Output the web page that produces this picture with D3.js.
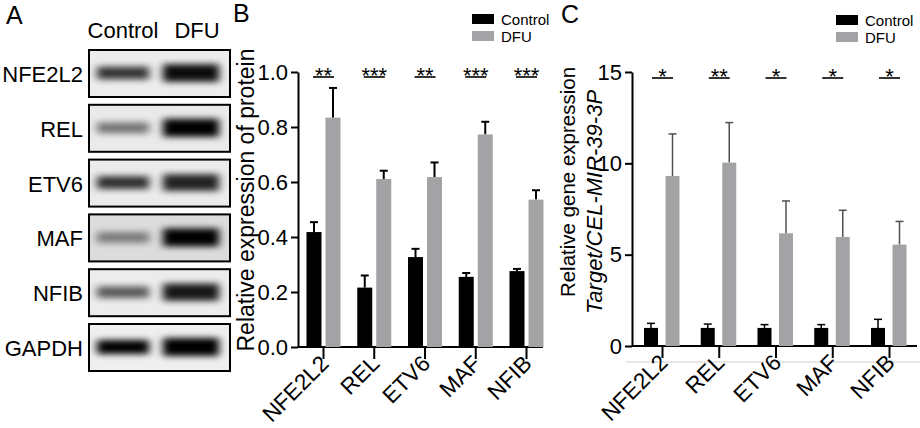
<!DOCTYPE html>
<html>
<head>
<meta charset="utf-8">
<script src="https://cdn.jsdelivr.net/npm/d3@7"></script>
<style>
  body { margin: 0; background: #fff; }
  text { font-family: "Liberation Sans", Arial, sans-serif; }
</style>
</head>
<body>
<script>
// genes shown in all three panels
var genes = ["NFE2L2", "REL", "ETV6", "MAF", "NFIB"];
var blotRows = ["NFE2L2", "REL", "ETV6", "MAF", "NFIB", "GAPDH"];
var lanes = ["Control", "DFU"];

// band darkness (0..1)
var bandControl = [0.78, 0.5, 0.8, 0.45, 0.62, 1.0];
var bandDFU = [0.95, 1.0, 0.85, 1.0, 0.9, 1.0];
var bandBg = ["#ececec", "#eaeaea", "#ebebeb", "#dcdcdc", "#ececec", "#efefef"];

// panel B: relative expression of protein
var protControl = [0.418, 0.216, 0.327, 0.255, 0.276];
var protControlErr = [0.036, 0.044, 0.03, 0.014, 0.008];
var protDFU = [0.834, 0.611, 0.618, 0.773, 0.536];
var protDFUErr = [0.108, 0.03, 0.053, 0.046, 0.034];
var protStars = ["**", "***", "**", "***", "***"];
var protTicks = [0, 0.2, 0.4, 0.6, 0.8, 1.0];

// panel C: relative gene expression
var geneControl = [0.99, 0.99, 0.99, 0.99, 0.99];
var geneControlErr = [0.25, 0.21, 0.18, 0.18, 0.47];
var geneDFU = [9.31, 10.04, 6.17, 5.97, 5.55];
var geneDFUErr = [2.3, 2.19, 1.77, 1.46, 1.27];
var geneStars = ["*", "**", "*", "*", "*"];
var geneTicks = [0, 5, 10, 15];

var black = "#000", grey = "#a3a3a6";

var svg = d3.select("body").append("svg")
  .attr("width", 920).attr("height", 428);

var defs = svg.append("defs");
defs.append("filter").attr("id", "blur").attr("x", "-30%").attr("y", "-100%")
  .attr("width", "160%").attr("height", "300%")
  .append("feGaussianBlur").attr("stdDeviation", "4 3");

function letter(x, y, t) {
  svg.append("text").attr("x", x).attr("y", y)
    .style("font-size", "25px").text(t);
}

// ---------- panel A: blots ----------
letter(6, 24, "A");

var rowY = d3.scalePoint().domain(blotRows).range([73, 347]);
var laneX = d3.scalePoint().domain(lanes).range([123, 191]);

svg.selectAll(".laneLabel").data(lanes).enter().append("text")
  .attr("x", function(d) { return d == "Control" ? laneX(d) : laneX(d) + 6; })
  .attr("y", 38)
  .attr("text-anchor", "middle")
  .style("font-size", "22px")
  .text(function(d) { return d; });

var rows = svg.selectAll(".blot").data(blotRows).enter().append("g")
  .attr("transform", function(d) { return "translate(0," + rowY(d) + ")"; });

rows.append("rect")
  .attr("x", 89).attr("y", -23).attr("width", 141).attr("height", 47)
  .attr("fill", function(d, i) { return bandBg[i]; })
  .attr("stroke", black).attr("stroke-width", 2);

rows.append("text")
  .attr("x", 83).attr("y", 9)
  .attr("text-anchor", "end")
  .style("font-size", "22px")
  .text(function(d) { return d; });

rows.append("rect")
  .attr("x", 97).attr("width", 52)
  .attr("y", function(d, i) { return -4 - bandControl[i] * 3; })
  .attr("height", function(d, i) { return 8 + bandControl[i] * 6; })
  .attr("fill", black)
  .attr("opacity", function(d, i) { return bandControl[i]; })
  .attr("filter", "url(#blur)");

rows.append("rect")
  .attr("x", 163).attr("width", 56)
  .attr("y", function(d, i) { return -5 - bandDFU[i] * 4; })
  .attr("height", function(d, i) { return 9 + bandDFU[i] * 9; })
  .attr("fill", black)
  .attr("opacity", function(d, i) { return bandDFU[i]; })
  .attr("filter", "url(#blur)");

// ---------- bar panels ----------
function barPanel(o) {
  var g = svg.append("g");
  var x = d3.scalePoint().domain(genes).range(o.xr);
  var y = d3.scaleLinear().domain(o.yd).range([o.y0, o.y1]);

  var yAxis = d3.axisLeft(y).tickValues(o.ticks).tickFormat(o.fmt)
    .tickSize(7).tickSizeOuter(0).tickPadding(3);
  var ya = g.append("g").attr("transform", "translate(" + o.ax + ",0)").call(yAxis);
  ya.select(".domain").attr("stroke-width", 2);
  ya.selectAll(".tick line").attr("stroke-width", 2);
  ya.selectAll(".tick text").style("font-size", "22px")
    .style("font-family", "'Liberation Sans', Arial, sans-serif");

  var xAxis = d3.axisBottom(x).tickSize(12).tickFormat("");
  var xa = g.append("g").attr("transform", "translate(0," + o.y0 + ")").call(xAxis);
  xa.select(".domain").remove();
  xa.selectAll(".tick line").attr("stroke-width", 2);
  g.append("line").attr("x1", o.ax).attr("x2", o.xEnd)
    .attr("y1", y(0)).attr("y2", y(0))
    .attr("stroke", black).attr("stroke-width", 2);

  g.selectAll(".xl").data(genes).enter().append("text")
    .attr("text-anchor", "end")
    .attr("transform", function(d) {
      return "translate(" + (x(d) + 7) + "," + (o.y0 + 18) + ") rotate(-45)";
    })
    .style("font-size", "22.5px")
    .text(function(d) { return d; });

  var series = [
    { vals: o.ctrl, err: o.ctrlErr, fill: black, errColor: black, off: o.offC },
    { vals: o.dfu, err: o.dfuErr, fill: grey, errColor: o.dfuErrColor, off: o.offD }
  ];
  series.forEach(function(s) {
    var bars = g.selectAll(null).data(genes).enter();
    bars.append("line")
      .attr("x1", function(d) { return x(d) + s.off + o.bw / 2; })
      .attr("x2", function(d) { return x(d) + s.off + o.bw / 2; })
      .attr("y1", function(d, i) { return y(s.vals[i]); })
      .attr("y2", function(d, i) { return y(s.vals[i] + s.err[i]); })
      .attr("stroke", s.errColor).attr("stroke-width", o.errW);
    bars.append("line")
      .attr("x1", function(d) { return x(d) + s.off + o.bw / 2 - 4; })
      .attr("x2", function(d) { return x(d) + s.off + o.bw / 2 + 4; })
      .attr("y1", function(d, i) { return y(s.vals[i] + s.err[i]); })
      .attr("y2", function(d, i) { return y(s.vals[i] + s.err[i]); })
      .attr("stroke", s.errColor).attr("stroke-width", o.errW);
    bars.append("rect")
      .attr("x", function(d) { return x(d) + s.off; })
      .attr("width", o.bw)
      .attr("y", function(d, i) { return y(s.vals[i]); })
      .attr("height", function(d, i) { return y(0) - y(s.vals[i]); })
      .attr("fill", s.fill);
  });

  // significance marks
  g.selectAll(".sig").data(genes).enter().append("line")
    .attr("x1", function(d) { return x(d) - 10; })
    .attr("x2", function(d) { return x(d) + 11; })
    .attr("y1", o.sigY).attr("y2", o.sigY)
    .attr("stroke", black).attr("stroke-width", 1.6);
  g.selectAll(".star").data(genes).enter().append("text")
    .attr("x", function(d) { return x(d) + 0.5; })
    .attr("y", o.sigY + 6)
    .attr("text-anchor", "middle")
    .style("font-size", "22px")
    .text(function(d, i) { return o.stars[i]; });

  // legend
  var lg = g.append("g").attr("transform", "translate(" + o.lx + "," + o.ly + ")");
  lanes.forEach(function(l, i) {
    lg.append("rect").attr("x", 0).attr("y", i * 17).attr("width", 22).attr("height", 10)
      .attr("fill", i == 0 ? black : grey);
    lg.append("text").attr("x", 29).attr("y", i * 17 + 10.5)
      .style("font-size", "15px").text(l);
  });
  return g;
}

letter(233, 22, "B");
var gB = barPanel({
  xr: [323, 526], ax: 298, xEnd: 543, yd: [0, 1], y0: 347, y1: 72,
  ticks: protTicks, fmt: d3.format(".1f"),
  ctrl: protControl, ctrlErr: protControlErr,
  dfu: protDFU, dfuErr: protDFUErr, dfuErrColor: black,
  offC: -16.5, offD: 2.5, bw: 15, errW: 2,
  stars: protStars, sigY: 77, lx: 472, ly: 14
});
gB.append("text")
  .attr("transform", "translate(254,200) rotate(-90)")
  .attr("text-anchor", "middle")
  .style("font-size", "23px")
  .text("Relative expression of protein");

letter(561, 23, "C");
svg.append("line").attr("x1", 626).attr("x2", 920).attr("y1", 362).attr("y2", 362)
  .attr("stroke", "#cfcfcf").attr("stroke-width", 1);
var gC = barPanel({
  xr: [662, 889], ax: 632, xEnd: 917, yd: [0, 15], y0: 346, y1: 72,
  ticks: geneTicks, fmt: d3.format("d"),
  ctrl: geneControl, ctrlErr: geneControlErr,
  dfu: geneDFU, dfuErr: geneDFUErr, dfuErrColor: "#505050",
  offC: -18, offD: 3.5, bw: 14, errW: 1.5,
  stars: geneStars, sigY: 78, lx: 836, ly: 15
});
gC.append("text")
  .attr("transform", "translate(575,182) rotate(-90)")
  .attr("text-anchor", "middle")
  .style("font-size", "20.5px")
  .text("Relative gene expression");
gC.append("text")
  .attr("transform", "translate(602,202) rotate(-90)")
  .attr("text-anchor", "middle")
  .style("font-size", "22px")
  .style("font-style", "italic")
  .text("Target/CEL-MIR-39-3P");
</script>
</body>
</html>
